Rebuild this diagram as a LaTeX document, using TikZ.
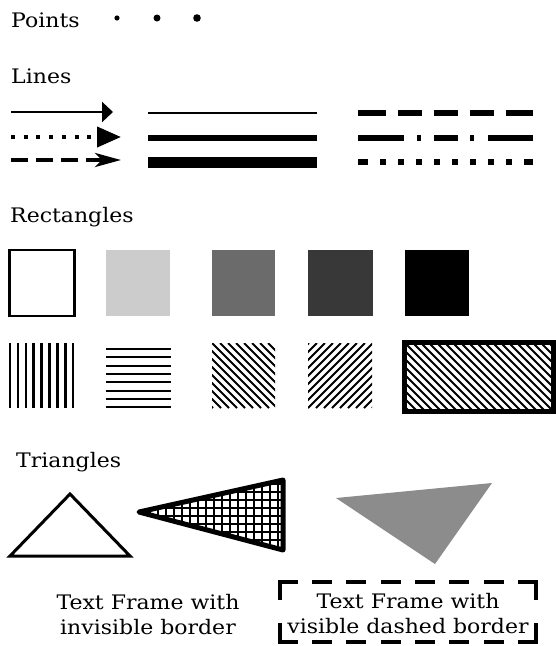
\documentclass[tikz,border=0pt]{standalone}
\usepackage{fontspec}
\setmainfont{DejaVu Serif}[FakeStretch=1.1]
\usetikzlibrary{arrows.meta}

\tikzset{
  heading/.style={anchor=base west, inner sep=0pt, font=\fontsize{20}{25}\selectfont},
  frametext/.style={align=center, inner sep=0pt, font=\fontsize{20}{25}\selectfont},
  hdash/.style={line width=4pt, line cap=rect, dash pattern=on 16pt off 18.3pt},
  vdash/.style={line width=4pt, line cap=rect, dash pattern=on 16pt off 27pt},
  rule/.style={line width=6pt},
  hatch/.style={line width=1.8pt},
}

\begin{document}
\begin{tikzpicture}[x=1pt, y=-1pt]
    \useasboundingbox (0,0) rectangle (556,646);

    % points
    \node[heading] (points) at (11,27) {Points};
    \fill (117,18) circle (2.6);
    \fill (157,18) circle (3.5);
    \fill (197,18) circle (3.8);

    % lines
    \node[heading] (lines) at (11,83) {Lines};
    \coordinate (a1) at (11,112);  \coordinate (b1) at (113,112);
    \coordinate (a2) at (11,137);  \coordinate (b2) at (121,137);
    \coordinate (a3) at (11,160);  \coordinate (b3) at (121,160);
    \draw[line width=2.5pt, -{Triangle[length=11pt, width=20pt]}] (a1) -- (b1);
    \draw[line width=4pt, dash pattern=on 4pt off 8.7pt, -{Triangle[length=24pt, width=20pt]}] (a2) -- (b2);
    \draw[line width=4pt, dash pattern=on 17pt off 8pt, -{Stealth[length=26pt, width=14pt, inset=7pt]}] (a3) -- (b3);

    \draw[line width=1.3pt] (148,113) -- (317,113);
    \draw[line width=6pt] (148,138) -- (317,138);
    \draw[line width=11pt] (148,162) -- (317,162);

    \draw[rule, dash pattern=on 28pt off 12pt on 24pt off 12pt on 24pt off 12pt on 24pt off 12pt on 27pt] (358,113) -- (533,113);
    \draw[rule, dash pattern=on 46pt off 13pt on 4pt off 13pt on 24pt off 12pt on 4pt off 14pt on 45pt] (358,138) -- (533,138);
    \draw[rule, dash pattern=on 10pt off 12pt on 6pt off 12pt on 6pt off 12pt on 6pt off 12pt on 6pt off 12pt on 6pt off 12pt on 6pt off 12pt on 6pt off 12pt on 6pt off 12pt on 9pt] (358,162) -- (533,162);

    % rectangles
    \node[heading] (rectangles) at (10,222) {Rectangles};
    \draw[line width=2.5pt] (9.5,250) rectangle (74.5,316);
    \fill[black!20] (106,250) rectangle (170,316);
    \fill[black!58] (212,250) rectangle (275,316);
    \fill[black!78] (308,250) rectangle (373,316);
    \fill (405,250) rectangle (469,316);

    \foreach \i in {0,...,8}
        \draw[line width=2.5pt] (10+7.9*\i,343) -- (10+7.9*\i,408);
    \foreach \i in {0,...,7}
        \draw[line width=2pt] (106,349+8.3*\i) -- (171,349+8.3*\i);
    \begin{scope}
        \clip (212,343) rectangle (275,408);
        \foreach \d in {-72,-64,...,64}
            \draw[hatch] (212+\d,343) -- (277+\d,408);
    \end{scope}
    \begin{scope}
        \clip (308,343) rectangle (372,408);
        \foreach \d in {-72,-64,...,64}
            \draw[hatch] (308+\d,408) -- (373+\d,343);
    \end{scope}
    \begin{scope}
        \clip (404.5,342.5) rectangle (553.5,411.5);
        \foreach \d in {-80,-72,...,152}
            \draw[hatch] (404+\d,342) -- (474+\d,412);
    \end{scope}
    \draw[line width=5pt] (404.5,342.5) rectangle (553.5,411.5);

    % triangles
    \node[heading] (triangles) at (16,467) {Triangles};
    \draw[line width=3pt] (70,494) -- (10,556) -- (130,556) -- cycle;
    \begin{scope}
        \clip (139,512) -- (283,480) -- (283,550) -- cycle;
        \foreach \i in {0,...,19}
            \draw[line width=2pt] (134+8*\i,470) -- (134+8*\i,560);
        \foreach \i in {0,...,12}
            \draw[line width=2pt] (130,468+8*\i) -- (290,468+8*\i);
    \end{scope}
    \draw[line width=5pt, line join=round] (139,512) -- (283,480) -- (283,550) -- cycle;
    \fill[black!45] (336,498) -- (492,483) -- (435,564) -- cycle;

    % text frames
    \node[frametext] (plainframe) at (148,614.5) {Text Frame with\\invisible border};
    \node[minimum width=256pt, minimum height=60pt, inner sep=0pt] (dashframe) at (408,612) {};
    \node[frametext] (dashtext) at (408,614) {Text Frame with\\visible dashed border};
    \draw[hdash] (dashframe.north west) -- (dashframe.north east);
    \draw[hdash] (dashframe.south west) -- (dashframe.south east);
    \draw[vdash] (dashframe.north west) -- (dashframe.south west);
    \draw[vdash] (dashframe.north east) -- (dashframe.south east);
\end{tikzpicture}
\end{document}
